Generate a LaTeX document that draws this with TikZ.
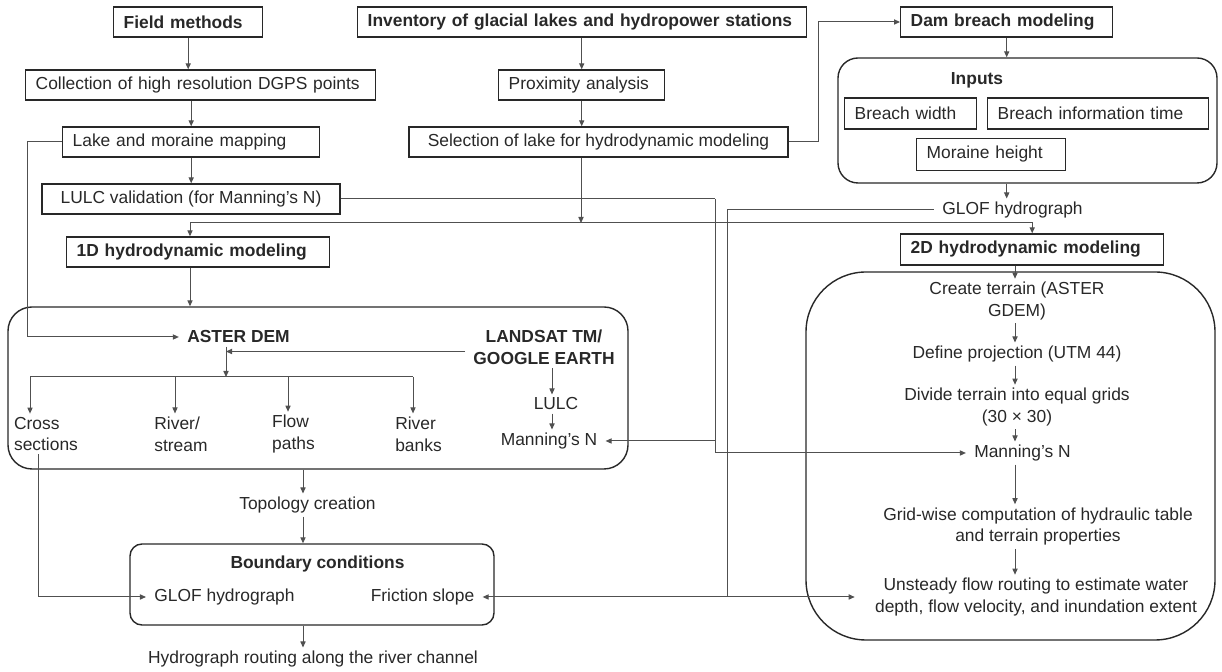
\documentclass[tikz,border=0pt]{standalone}
\usepackage{fontspec}
\setmainfont{Liberation Sans}
\usetikzlibrary{arrows.meta, positioning, calc}
\definecolor{inkgray}{RGB}{40,40,40}
\definecolor{linegray}{RGB}{80,80,80}
\newcommand{\figfont}{\fontsize{8.7}{10.8}\selectfont}

\begin{document}
\begin{tikzpicture}[x=0.5pt, y=-0.5pt, >={Triangle[length=3pt,width=2.6pt]},
    box/.style={draw=inkgray, line width=0.7pt, minimum height=15pt, inner xsep=5pt, inner ysep=1pt, font=\figfont, text=inkgray},
    lbox/.style={box, anchor=west, align=left},
    bbox/.style={lbox, font=\figfont\bfseries},
    txt/.style={inner xsep=4pt, inner ysep=1.5pt, align=center, font=\figfont, text=inkgray},
    hd/.style={txt, font=\figfont\bfseries},
    panel/.style={draw=inkgray, line width=0.7pt, inner sep=0pt},
    link/.style={draw=linegray, line width=0.5pt},
    arr/.style={link, ->}]
    \useasboundingbox (0,0) rectangle (1222,672);

    % Field methods column
    \node[bbox, text width=64.5pt] (field) at (113,22) {Field methods};
    \node[lbox, text width=165pt] (dgps) at (25,85) {Collection of high resolution DGPS points};
    \node[lbox, text width=118.5pt] (lake) at (62,142) {Lake and moraine mapping};
    \node[box, minimum width=149pt] (lulcv) at (191,199) {LULC validation (for Manning’s N)};

    % Inventory column
    \node[bbox, text width=214.5pt] (inv) at (357,22) {Inventory of glacial lakes and hydropower stations};
    \node[lbox, text width=73pt] (prox) at (498,85) {Proximity analysis};
    \node[box, minimum width=189.5pt] (sel) at (598.5,142) {Selection of lake for hydrodynamic modeling};

    % Dam breach column
    \node[bbox, text width=96pt] (dam) at (900,22) {Dam breach modeling};
    \node[panel, rounded corners=10pt, minimum width=189.5pt, minimum height=62.5pt] (inp) at (1027.5,120.5) {};
    \node[hd] (inplab) at (977,80) {Inputs};
    \node[lbox, text width=56pt, minimum height=15.5pt] (bwidth) at (844,113.5) {Breach width};
    \node[lbox, text width=100.5pt, minimum height=15.5pt] (btime) at (987,113.5) {Breach information time};
    \node[lbox, text width=64.5pt, minimum height=16pt] (mheight) at (916,154.5) {Moraine height};
    \node[txt] (glof2) at (1012.5,210) {GLOF hydrograph};

    % Model heads
    \node[bbox, text width=121.5pt] (hd1) at (66,252) {1D hydrodynamic modeling};
    \node[bbox, text width=121.5pt, minimum height=15.5pt] (hd2) at (900,249.5) {2D hydrodynamic modeling};

    % 1D panel
    \node[panel, rounded corners=12pt, minimum width=310pt, minimum height=81pt] (g1) at (318,388) {};
    \node[hd] (aster) at (238.5,337) {ASTER DEM};
    \node[hd] (landsat) at (544,347.5) {LANDSAT TM/\\GOOGLE EARTH};
    \node[txt, align=left] (cross) at (46,434) {Cross\\sections};
    \node[txt, align=left] (river) at (181,434) {River/\\stream};
    \node[txt, align=left] (flow) at (293.5,434) {Flow\\paths};
    \node[txt, align=left] (banks) at (418.5,434) {River\\banks};
    \node[txt] (lulc) at (556,404) {LULC};
    \node[txt] (mann1) at (549,441) {Manning’s N};

    % 1D routing
    \node[txt] (topo) at (307.5,505) {Topology creation};
    \node[panel, rounded corners=6pt, minimum width=182pt, minimum height=40.5pt] (bnd) at (312,584.5) {};
    \node[hd] (bndlab) at (317.5,564) {Boundary conditions};
    \node[txt] (glof1) at (224.5,597) {GLOF hydrograph};
    \node[txt] (friction) at (422.5,597) {Friction slope};
    \node[txt] (route) at (313,659) {Hydrograph routing along the river channel};

    % 2D panel
    \node[panel, rounded corners=30pt, minimum width=204.5pt, minimum height=184pt] (g2) at (1010.5,456) {};
    \node[txt] (create) at (1017,301) {Create terrain (ASTER\\GDEM)};
    \node[txt] (defproj) at (1017,354) {Define projection (UTM 44)};
    \node[txt] (divide) at (1017,407) {Divide terrain into equal grids\\(30 × 30)};
    \node[txt] (mann2) at (1022.5,453) {Manning’s N};
    \node[txt] (grid) at (1038,526.5) {Grid-wise computation of hydraulic table\\and terrain properties};
    \node[txt] (unsteady) at (1036,597) {Unsteady flow routing to estimate water\\depth, flow velocity, and inundation extent};

    % helper coordinates
    \coordinate (col1) at (190,0);
    \coordinate (col3) at (1015,0);
    \coordinate (col4) at (552,0);
    \coordinate (col5) at (303,0);
    \coordinate (bus) at (581,223);
    \coordinate (dembus) at (226,377);
    \coordinate (jl) at (715,199);
    \coordinate (jg) at (727,210);
    \coordinate (lw) at ([yshift=-2pt]landsat.west);

    % Field methods links
    \draw[arr] (field) -- (field |- dgps.north);
    \draw[arr] (dgps.south -| lake) -- (lake);
    \draw[arr] (lake) -- (lake |- lulcv.north);
    \draw[arr] (lake.west) -- ++(-35,0) |- (aster.west);

    % Inventory links
    \draw[arr] (inv.south -| prox) -- (prox);
    \draw[arr] (prox) -- (prox |- sel.north);
    \draw[arr] (sel.south -| bus) -- (bus);
    \draw[arr] (bus) -| (col1 |- hd1.north);
    \draw[arr] (bus) -| (hd2.north);
    \draw[arr] (sel.east) -- ++(30,0) |- (dam.west);

    % Dam breach links
    \draw[arr] (dam) -- (dam |- inp.north);
    \draw[arr] (inp.south -| dam) -- (dam |- glof2.north);

    % 1D links
    \draw[arr] (col1 |- hd1.south) -- (col1 |- g1.north);
    \draw[arr] (aster.south -| dembus) -- (dembus);
    \draw[arr] (lw) -- (lw -| dembus);
    \foreach \n/\s in {cross/-8pt, river/-3pt, flow/-2.75pt, banks/-2.75pt}
        \coordinate (t\n) at ([xshift=\s]\n.north);
    \draw[link] (tcross |- dembus) -- (tbanks |- dembus);
    \foreach \n in {cross, river, flow, banks}
        \draw[arr] (t\n |- dembus) -- (t\n);
    \draw[arr] (col4 |- landsat.south) -- (col4 |- lulc.north);
    \draw[arr] (col4 |- lulc.south) -- (col4 |- mann1.north);
    \draw[link] (lulcv) -- (jl);
    \draw[arr] (jl) |- (mann2);
    \draw[arr] (jl |- mann1) -- (mann1);

    % 1D routing links
    \draw[arr] (col5 |- g1.south) -- (col5 |- topo.north);
    \draw[arr] (col5 |- topo.south) -- (col5 |- bnd.north);
    \draw[arr] (col5 |- bnd.south) -- (col5 |- route.north);
    \draw[arr] ([xshift=-4pt]cross.south) |- (glof1);

    % 2D links
    \draw[arr] (col3 |- hd2.south) -- (col3 |- create.north);
    \foreach \a/\b in {create/defproj, defproj/divide, divide/mann2, mann2/grid, grid/unsteady}
        \draw[arr] (col3 |- \a.south) -- (col3 |- \b.north);
    \draw[link] (glof2) -- (jg) -- (jg |- friction);
    \draw[arr] (jg |- friction) -- (friction);
    \draw[arr] (jg |- friction) -- ([xshift=-6pt]unsteady.west);
\end{tikzpicture}
\end{document}
